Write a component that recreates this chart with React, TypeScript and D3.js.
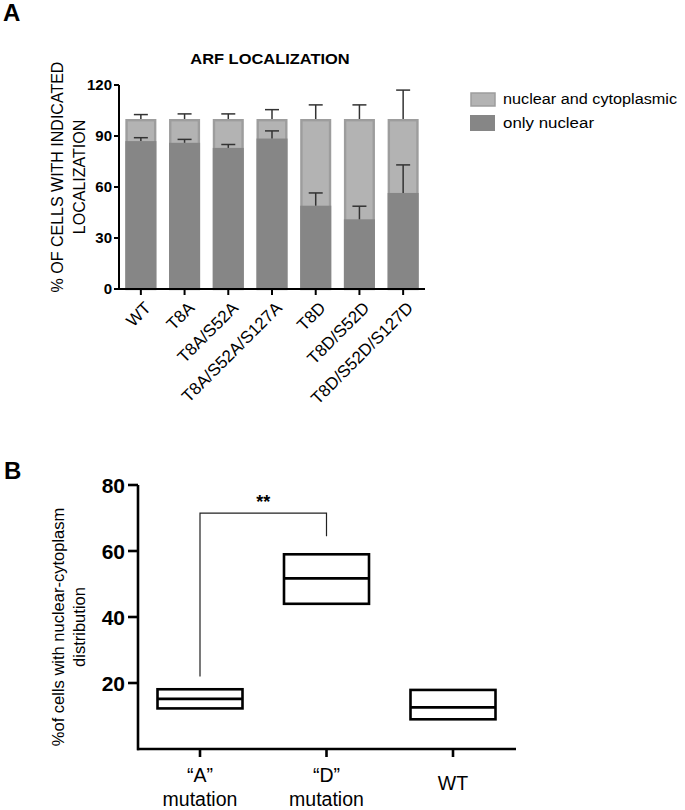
import React from "react";
import * as d3 from "d3";

// ---------- Panel A data ----------
const categories = ["WT", "T8A", "T8A/S52A", "T8A/S52A/S127A", "T8D", "T8D/S52D", "T8D/S52D/S127D"];
const onlyNuclear = [87, 86, 83, 88.5, 49, 41, 56.5];
const onlyNuclearErrTop = [89, 88, 85, 93, 56.5, 48.7, 73];
const totalValue = [100, 100, 100, 100, 100, 100, 100];
const totalErrTop = [102.6, 103, 103, 105.5, 108.3, 108.3, 117];
const yTicksA = [0, 30, 60, 90, 120];
const legendLabels = ["nuclear and cytoplasmic", "only nuclear"];

// ---------- Panel B data ----------
const groupsB = [["\u201CA\u201D", "mutation"], ["\u201CD\u201D", "mutation"], ["WT"]];
const boxLow = [12.3, 44, 9];
const boxMid = [15.2, 51.7, 12.6];
const boxHigh = [18.1, 59, 17.9];
const yTicksB = [20, 40, 60, 80];
const sigFrom = { group: 0, value: 22 };
const sigTo = { group: 1, value: 64.5 };
const sigLevel = 71.5;
const sigLabel = "**";

const FONT = "'Liberation Sans', Arial, Helvetica, sans-serif";
const LIGHT = "#b3b3b3";
const LIGHT_STROKE = "#9d9d9d";
const DARK = "#868686";

export default function App() {
  // Panel A scales
  const xA = d3.scaleBand<string>().domain(categories).range([119, 425]).padding(0);
  const yA = d3.scaleLinear().domain([0, 120]).range([289, 85]);
  const bw = xA.bandwidth() * 0.71;

  // Panel B scales
  const xB = d3.scalePoint<number>().domain([0, 1, 2]).range([200, 453]);
  const yB = d3.scaleLinear().domain([0, 80]).range([749, 485]);
  const boxW = 85;

  const cx = (c: string) => (xA(c) as number) + xA.bandwidth() / 2;

  return (
    <svg width={685} height={810} style={{ position: "absolute", left: 0, top: 0, background: "#fff" }} fontFamily={FONT}>
      <rect x={0} y={0} width={685} height={810} fill="#fff" />
      {/* Panel letters */}
      <text x={3} y={21} fontSize={24} fontWeight="bold">A</text>
      <text x={4} y={479} fontSize={24} fontWeight="bold">B</text>

      {/* ---------- Panel A ---------- */}
      <text x={270} y={64} fontSize={15.5} fontWeight="bold" textAnchor="middle" transform="translate(270,0) scale(1.06,1) translate(-270,0)">ARF LOCALIZATION</text>
      <g transform={`translate(0,177) rotate(-90)`}>
        <text x={0} y={63} fontSize={16} textAnchor="middle">% OF CELLS WITH INDICATED</text>
        <text x={0} y={85} fontSize={16} textAnchor="middle">LOCALIZATION</text>
      </g>

      {categories.map((c, i) => {
        const x = cx(c);
        return (
          <g key={c}>
            <rect x={x - bw / 2 + 1.2} y={yA(totalValue[i]) + 1.2} width={bw - 2.4} height={yA(0) - yA(totalValue[i]) - 1.2}
              fill={LIGHT} stroke={LIGHT_STROKE} strokeWidth={2.4} />
            <rect x={x - bw / 2} y={yA(onlyNuclear[i])} width={bw} height={yA(0) - yA(onlyNuclear[i])} fill={DARK} />
            {/* error bars */}
            <line x1={x} x2={x} y1={yA(totalValue[i])} y2={yA(totalErrTop[i])} stroke="#333" strokeWidth={1.5} />
            <line x1={x - 7} x2={x + 7} y1={yA(totalErrTop[i])} y2={yA(totalErrTop[i])} stroke="#333" strokeWidth={1.5} />
            <line x1={x} x2={x} y1={yA(onlyNuclear[i])} y2={yA(onlyNuclearErrTop[i])} stroke="#333" strokeWidth={1.5} />
            <line x1={x - 7} x2={x + 7} y1={yA(onlyNuclearErrTop[i])} y2={yA(onlyNuclearErrTop[i])} stroke="#333" strokeWidth={1.5} />
          </g>
        );
      })}

      {/* axes A */}
      <line x1={119} x2={119} y1={yA(120)} y2={yA(0) + 1} stroke="#000" strokeWidth={2} />
      <line x1={118} x2={425} y1={yA(0)} y2={yA(0)} stroke="#000" strokeWidth={2} />
      {yTicksA.map((t) => (
        <g key={t}>
          <line x1={114} x2={119} y1={yA(t)} y2={yA(t)} stroke="#000" strokeWidth={2} />
          <text x={112} y={yA(t)} dy="0.36em" fontSize={15} fontWeight="bold" textAnchor="end">{t}</text>
        </g>
      ))}
      {categories.map((c) => {
        const x = cx(c);
        return (
          <g key={"t" + c}>
            <line x1={x} x2={x} y1={yA(0)} y2={yA(0) + 6} stroke="#000" strokeWidth={2} />
            <text transform={`translate(${x + 11},${yA(0) + 20}) rotate(-45)`} fontSize={17} textAnchor="end">{c}</text>
          </g>
        );
      })}

      {/* legend A */}
      <rect x={471} y={93} width={24} height={13} fill={LIGHT} stroke={LIGHT_STROKE} strokeWidth={1.5} />
      <rect x={470} y={115} width={25} height={16} fill={DARK} />
      <text x={503} y={104} fontSize={15.5} textLength={174} lengthAdjust="spacingAndGlyphs">{legendLabels[0]}</text>
      <text x={503} y={128} fontSize={15.5} textLength={91} lengthAdjust="spacingAndGlyphs">{legendLabels[1]}</text>

      {/* ---------- Panel B ---------- */}
      <g transform={`translate(0,627) rotate(-90)`}>
        <text x={0} y={64} fontSize={16.5} textAnchor="middle">%of cells with nuclear-cytoplasm</text>
        <text x={0} y={85} fontSize={16.5} textAnchor="middle">distribution</text>
      </g>

      {groupsB.map((g, i) => {
        const x = xB(i) as number;
        return (
          <g key={"b" + i}>
            <rect x={x - boxW / 2} y={yB(boxHigh[i])} width={boxW} height={yB(boxLow[i]) - yB(boxHigh[i])}
              fill="none" stroke="#000" strokeWidth={2.6} />
            <line x1={x - boxW / 2} x2={x + boxW / 2} y1={yB(boxMid[i])} y2={yB(boxMid[i])} stroke="#000" strokeWidth={2.6} />
          </g>
        );
      })}

      {/* significance bracket */}
      <path
        d={`M${xB(sigFrom.group)},${yB(sigFrom.value)}V${yB(sigLevel)}H${xB(sigTo.group)}V${yB(sigTo.value)}`}
        fill="none" stroke="#222" strokeWidth={1.2} />
      <text x={((xB(sigFrom.group) as number) + (xB(sigTo.group) as number)) / 2} y={508} fontSize={18} fontWeight="bold" textAnchor="middle">{sigLabel}</text>

      {/* axes B */}
      <line x1={138} x2={138} y1={yB(80)} y2={yB(0) + 1.2} stroke="#000" strokeWidth={2.6} />
      <line x1={137} x2={516} y1={yB(0)} y2={yB(0)} stroke="#000" strokeWidth={2.6} />
      {yTicksB.map((t) => (
        <g key={"yb" + t}>
          <line x1={128} x2={138} y1={yB(t)} y2={yB(t)} stroke="#000" strokeWidth={2.6} />
          <text x={125} y={yB(t)} dy="0.36em" fontSize={21} fontWeight="bold" textAnchor="end">{t}</text>
        </g>
      ))}
      {groupsB.map((g, i) => {
        const x = xB(i) as number;
        return (
          <g key={"xb" + i}>
            <line x1={x} x2={x} y1={yB(0)} y2={yB(0) + 8} stroke="#000" strokeWidth={2.6} />
            {g.length === 2 ? (
              <>
                <text x={x} y={782} fontSize={19.5} textAnchor="middle">{g[0]}</text>
                <text x={x} y={806} fontSize={19.5} textAnchor="middle">{g[1]}</text>
              </>
            ) : (
              <text x={x} y={790} fontSize={19.5} textAnchor="middle">{g[0]}</text>
            )}
          </g>
        );
      })}
    </svg>
  );
}
